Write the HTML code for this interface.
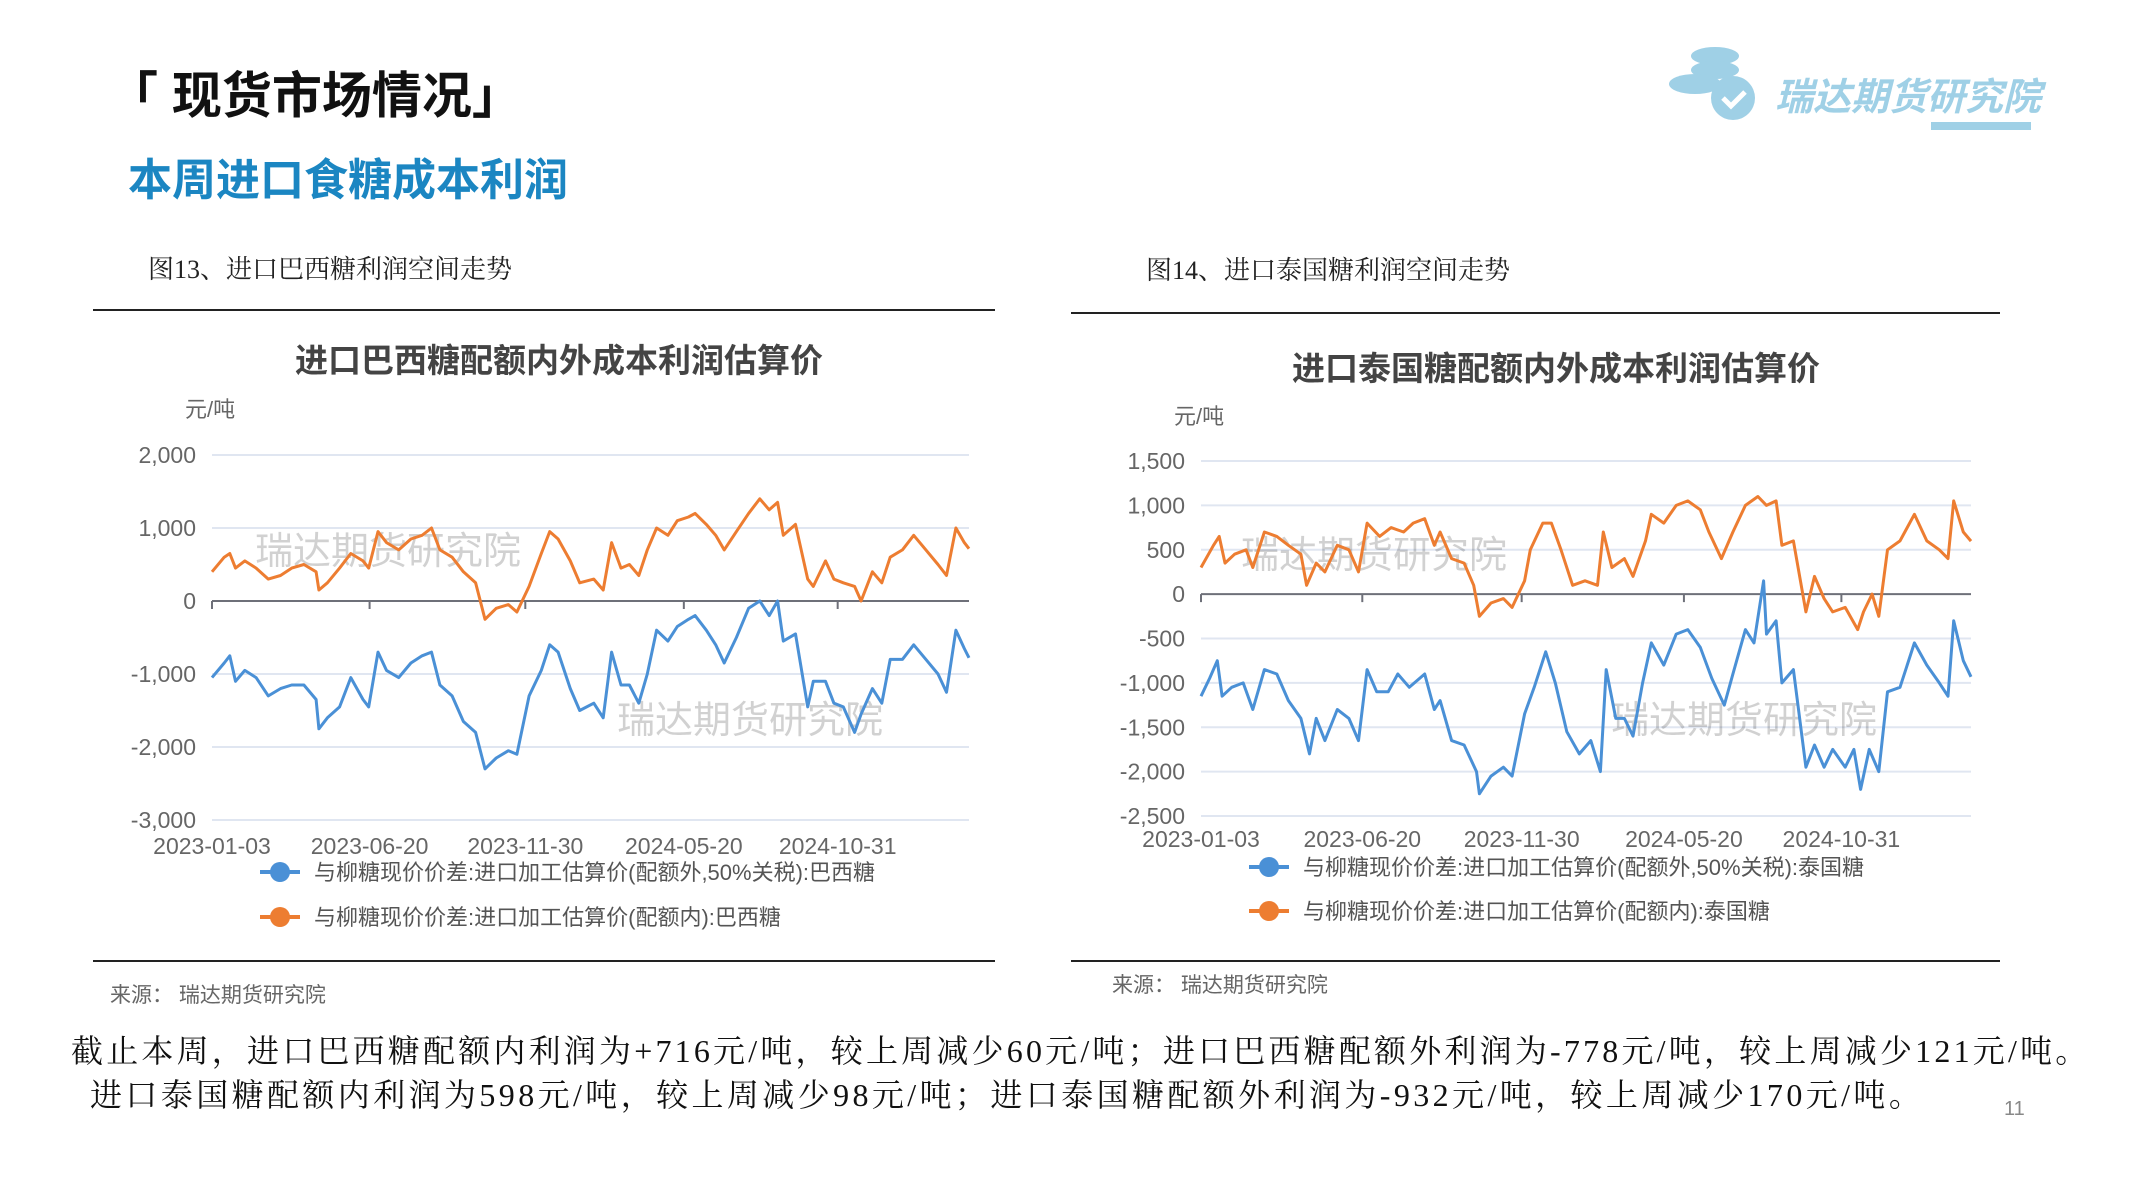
<!DOCTYPE html>
<html><head><meta charset="utf-8"><style>
body{margin:0;width:2133px;height:1200px;background:#fff;position:relative;overflow:hidden;font-family:"Liberation Sans","Noto Sans CJK SC",sans-serif}
.a{position:absolute;white-space:nowrap}
.serif{font-family:"Liberation Serif","Noto Serif CJK SC",serif}
</style></head><body>
<div class="a" style="left:108px;top:56px;font-size:50px;font-weight:bold;color:#111">「 现货市场情况」</div>
<div class="a" style="left:128px;top:144px;font-size:44px;font-weight:bold;color:#1b86c2">本周进口食糖成本利润</div>
<div class="a" style="left:1665px;top:40px;width:370px;height:95px">
<svg width="370" height="95"><ellipse cx="50" cy="16" rx="24" ry="9" fill="#9fd0e6"/><ellipse cx="50" cy="30" rx="24" ry="9" fill="#9fd0e6"/><ellipse cx="30" cy="44" rx="26" ry="10" fill="#9fd0e6"/><circle cx="68" cy="58" r="22" fill="#9fd0e6"/><path d="M58 58 l8 8 l14 -14" stroke="#fff" stroke-width="5" fill="none"/><rect x="266" y="82" width="100" height="8" fill="#9fd0e6"/></svg>
<div class="a" style="left:110px;top:26px;font-size:38px;font-weight:bold;font-style:italic;color:#9fd0e6">瑞达期货研究院</div></div>
<div class="a serif" style="left:148px;top:249px;font-size:26px;color:#222">图13、进口巴西糖利润空间走势</div>
<div class="a serif" style="left:1146px;top:250px;font-size:26px;color:#222">图14、进口泰国糖利润空间走势</div>
<div class="a" style="left:93px;top:309px;width:902px;height:2px;background:#222"></div>
<div class="a" style="left:1071px;top:312px;width:929px;height:2px;background:#222"></div>
<div class="a" style="left:93px;top:960px;width:902px;height:2px;background:#222"></div>
<div class="a" style="left:1071px;top:960px;width:929px;height:2px;background:#222"></div>
<div class="a" style="left:110px;top:979px;font-size:21px;color:#666">来源：&nbsp;瑞达期货研究院</div>
<div class="a" style="left:1112px;top:969px;font-size:21px;color:#666">来源：&nbsp;瑞达期货研究院</div>
<div class="a serif" style="left:71px;top:1026px;font-size:32px;letter-spacing:3.2px;color:#111">截止本周，进口巴西糖配额内利润为+716元/吨，较上周减少60元/吨；进口巴西糖配额外利润为-778元/吨，较上周减少121元/吨。</div>
<div class="a serif" style="left:90px;top:1070px;font-size:32px;letter-spacing:3.4px;color:#111">进口泰国糖配额内利润为598元/吨，较上周减少98元/吨；进口泰国糖配额外利润为-932元/吨，较上周减少170元/吨。</div>
<div class="a" style="left:2004px;top:1098px;font-size:20px;color:#888">11</div>
<svg id="svg" class="a" style="left:0;top:0" width="2133" height="1000"></svg>
<script>
const xTickLabels=["2023-01-03","2023-06-20","2023-11-30","2024-05-20","2024-10-31"];
const xTickDays=[0,168,334,503,667];
const brTicks=[2000,1000,0,-1000,-2000,-3000];
const thTicks=[1500,1000,500,0,-500,-1000,-1500,-2000,-2500];
const brDays=[0,13,19,25,35,47,60,73,85,98,111,114,123,136,148,161,167,177,186,199,212,224,234,243,256,268,281,291,303,316,325,338,351,360,369,382,392,407,417,426,436,445,455,464,474,486,496,508,515,527,537,546,559,572,584,594,603,609,622,635,641,654,663,673,685,692,704,714,723,736,748,761,774,783,793,802,807];
const brIn=[400,600,650,450,550,450,300,350,450,500,400,150,250,450,650,550,450,950,800,700,850,900,1000,700,600,400,250,-250,-100,-50,-150,200,650,950,850,550,250,300,150,800,450,500,350,700,1000,900,1100,1150,1200,1050,900,700,950,1200,1400,1250,1350,900,1050,300,200,550,300,250,200,0,400,250,600,700,900,700,500,350,1000,800,716];
const brOut=[-1050,-850,-750,-1100,-950,-1050,-1300,-1200,-1150,-1150,-1350,-1750,-1600,-1450,-1050,-1350,-1450,-700,-950,-1050,-850,-750,-700,-1150,-1300,-1650,-1800,-2300,-2150,-2050,-2100,-1300,-950,-600,-700,-1200,-1500,-1400,-1600,-700,-1150,-1150,-1400,-1000,-400,-550,-350,-250,-200,-400,-600,-850,-500,-100,0,-200,0,-550,-450,-1450,-1100,-1100,-1400,-1450,-1800,-1550,-1200,-1400,-800,-800,-600,-800,-1000,-1250,-400,-650,-778];
const thInDays=[0,13,19,25,35,47,54,66,79,91,104,110,120,129,142,154,164,173,186,198,211,221,233,243,249,261,274,284,290,302,315,324,337,343,356,365,375,387,400,413,419,428,441,450,463,469,482,495,507,520,529,542,554,567,580,589,599,605,617,630,639,649,658,671,684,690,699,706,715,728,743,756,769,778,784,794,802];
const thIn=[300,550,650,350,450,500,300,700,650,550,450,100,350,250,550,500,250,800,650,750,700,800,850,550,700,400,350,100,-250,-100,-50,-150,150,500,800,800,500,100,150,100,700,300,400,200,600,900,800,1000,1050,950,700,400,700,1000,1100,1000,1050,550,600,-200,200,-50,-200,-150,-400,-200,0,-250,500,600,900,600,500,400,1050,700,598];
const thOutDays=[0,9,17,22,32,44,54,66,79,91,104,113,120,129,142,154,164,173,183,195,205,217,233,243,249,261,274,287,290,302,315,324,337,347,359,369,381,394,406,416,422,432,441,450,460,469,482,495,507,520,532,545,554,567,576,586,589,599,605,617,630,639,649,658,671,680,687,696,706,715,728,743,756,769,778,784,794,802];
const thOut=[-1150,-950,-750,-1150,-1050,-1000,-1300,-850,-900,-1200,-1400,-1800,-1400,-1650,-1300,-1400,-1650,-850,-1100,-1100,-900,-1050,-900,-1300,-1200,-1650,-1700,-2000,-2250,-2050,-1950,-2050,-1350,-1050,-650,-1000,-1550,-1800,-1650,-2000,-850,-1400,-1400,-1600,-1000,-550,-800,-450,-400,-600,-950,-1250,-900,-400,-550,150,-450,-300,-1000,-850,-1950,-1700,-1950,-1750,-1950,-1750,-2200,-1750,-2000,-1100,-1050,-550,-800,-1000,-1150,-300,-750,-932];
const svg=document.getElementById('svg');const NS="http://www.w3.org/2000/svg";
function mk(t,a,txt){const e=document.createElementNS(NS,t);for(const k in a)e.setAttribute(k,a[k]);if(txt!==undefined)e.textContent=txt;svg.appendChild(e);return e;}
function chart(c){
 const X=d=>c.x0+(d/c.span)*(c.x1-c.x0);
 const Y=v=>c.yTop+(c.yMax-v)/(c.yMax-c.yMin)*(c.yBot-c.yTop);
 let e=mk('text',{x:c.cx,y:c.ty,'text-anchor':'middle','font-size':33,'font-weight':'bold',fill:'#444'},c.title);
 
 e=mk('text',{x:c.ux,y:c.uy,'font-size':22,fill:'#666'},'元/吨');
 
 c.yt.forEach(v=>{
  if(v!==0){e=mk('line',{x1:c.x0,x2:c.x1,y1:Y(v),y2:Y(v),stroke:'#e0e6f1','stroke-width':2});
  }
  e=mk('text',{x:c.x0-16,y:Y(v)+8,'text-anchor':'end','font-size':23,fill:'#666'},v.toLocaleString('en-US'));
  
 });
 e=mk('line',{x1:c.x0,x2:c.x1,y1:Y(0),y2:Y(0),stroke:'#6e7079','stroke-width':2});
 
 xTickDays.forEach((d,i)=>{
  e=mk('line',{x1:X(d),x2:X(d),y1:Y(0),y2:Y(0)+8,stroke:'#6e7079','stroke-width':2});
  
  e=mk('text',{x:X(d),y:c.xly,'text-anchor':'middle','font-size':23,fill:'#666'},xTickLabels[i]);
  
 });
 c.wm.forEach(p=>{e=mk('text',{x:p[0],y:p[1],'font-size':38,fill:'#000','fill-opacity':0.18},'瑞达期货研究院');
  });
 c.series.forEach(s=>{
  const d=s.days.map((dd,i)=>(i?'L':'M')+X(dd).toFixed(1)+' '+Y(s.vals[i]).toFixed(1)).join(' ');
  e=mk('path',{d:d,fill:'none',stroke:s.color,'stroke-width':3,'stroke-linejoin':'round'});
  
 });
 c.series.forEach((s,i)=>{
  const ly=c.ly[i];
  e=mk('line',{x1:c.lx,x2:c.lx+40,y1:ly,y2:ly,stroke:s.color,'stroke-width':4});
  
  e=mk('circle',{cx:c.lx+20,cy:ly,r:10,fill:s.color});
  
  e=mk('text',{x:c.lx+54,y:ly+8,'font-size':22,fill:'#555'},s.label);
  
 });
}
chart({x0:212,x1:969,span:807,yTop:455,yBot:820,yMax:2000,yMin:-3000,yt:brTicks,cx:559,ty:372,title:'进口巴西糖配额内外成本利润估算价',ux:185,uy:417,xly:854,lx:260,ly:[872,917],wm:[[255,564],[617,733]],
 series:[{name:'line-brazil-out-quota',color:'#4a90d6',days:brDays,vals:brOut,label:'与柳糖现价价差:进口加工估算价(配额外,50%关税):巴西糖'},
 {name:'line-brazil-in-quota',color:'#ed7d31',days:brDays,vals:brIn,label:'与柳糖现价价差:进口加工估算价(配额内):巴西糖'}]});
chart({x0:1201,x1:1971,span:802,yTop:461,yBot:816,yMax:1500,yMin:-2500,yt:thTicks,cx:1556,ty:380,title:'进口泰国糖配额内外成本利润估算价',ux:1174,uy:424,xly:847,lx:1249,ly:[867,911],wm:[[1241,568],[1611,733]],
 series:[{name:'line-thai-out-quota',color:'#4a90d6',days:thOutDays,vals:thOut,label:'与柳糖现价价差:进口加工估算价(配额外,50%关税):泰国糖'},
 {name:'line-thai-in-quota',color:'#ed7d31',days:thInDays,vals:thIn,label:'与柳糖现价价差:进口加工估算价(配额内):泰国糖'}]});
</script>
</body></html>
